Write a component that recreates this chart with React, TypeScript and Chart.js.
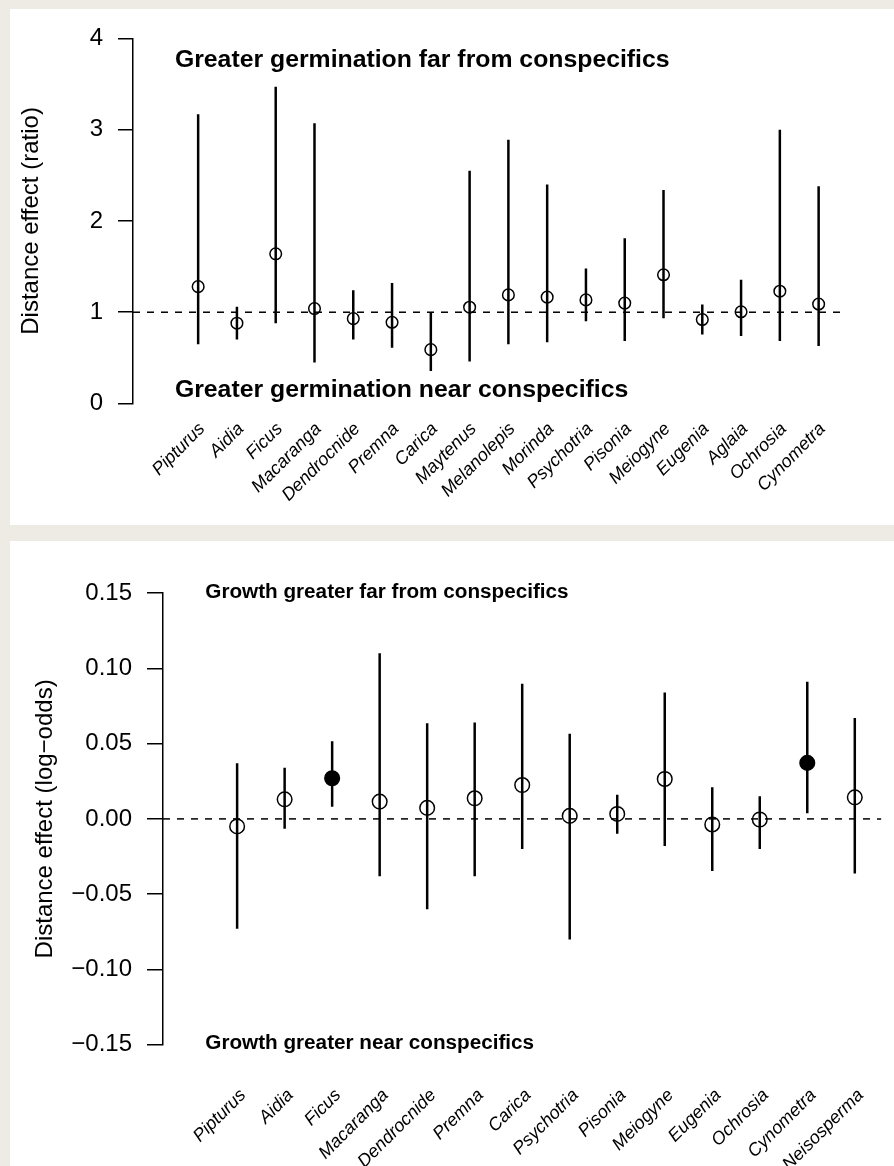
import { useEffect, useRef } from "react";
import { Chart, registerables } from "chart.js";

Chart.register(...registerables);

const FONT = "'Liberation Sans', Arial, Helvetica, sans-serif";

// Seed germination: distance effect expressed as a ratio
const germSpecies = [
  "Pipturus", "Aidia", "Ficus", "Macaranga", "Dendrocnide", "Premna", "Carica",
  "Maytenus", "Melanolepis", "Morinda", "Psychotria", "Pisonia", "Meiogyne",
  "Eugenia", "Aglaia", "Ochrosia", "Cynometra",
];
const germEstimate = [1.28, 0.88, 1.64, 1.04, 0.93, 0.89, 0.59, 1.055, 1.19, 1.165, 1.135, 1.1, 1.41, 0.92, 1.005, 1.23, 1.09];
const germLower = [0.65, 0.7, 0.88, 0.45, 0.7, 0.61, 0.355, 0.46, 0.65, 0.67, 0.9, 0.685, 0.935, 0.755, 0.74, 0.685, 0.63];
const germUpper = [3.17, 1.06, 3.47, 3.07, 1.24, 1.32, 1.0, 2.55, 2.89, 2.4, 1.48, 1.81, 2.34, 1.085, 1.355, 3.0, 2.38];
const germSignificant = germSpecies.map(() => false);
const germTicks = [0, 1, 2, 3, 4];
const germTickLabels = ["0", "1", "2", "3", "4"];

// Seedling growth: distance effect on the log-odds scale
const growthSpecies = [
  "Pipturus", "Aidia", "Ficus", "Macaranga", "Dendrocnide", "Premna", "Carica",
  "Psychotria", "Pisonia", "Meiogyne", "Eugenia", "Ochrosia", "Cynometra", "Neisosperma",
];
const growthEstimate = [-0.005, 0.013, 0.027, 0.0115, 0.0073, 0.0137, 0.0225, 0.002, 0.0033, 0.0265, -0.0037, -0.0004, 0.0372, 0.0143];
const growthLower = [-0.073, -0.0066, 0.008, -0.038, -0.06, -0.038, -0.02, -0.08, -0.0099, -0.018, -0.0346, -0.02, 0.0037, -0.0363];
const growthUpper = [0.037, 0.034, 0.0515, 0.11, 0.0635, 0.064, 0.0898, 0.0566, 0.016, 0.084, 0.021, 0.015, 0.091, 0.067];
const growthSignificant = [false, false, true, false, false, false, false, false, false, false, false, false, true, false];
const growthTicks = [-0.15, -0.1, -0.05, 0, 0.05, 0.1, 0.15];
const growthTickLabels = ["\u22120.15", "\u22120.10", "\u22120.05", "0.00", "0.05", "0.10", "0.15"];

type Note = { text: string; x: number; y: number };

type PanelSpec = {
  width: number;
  height: number;
  species: string[];
  estimate: number[];
  lower: number[];
  upper: number[];
  significant: boolean[];
  ticks: number[];
  tickLabels: string[];
  reference: number;
  xMin: number;
  xMax: number;
  yTitle: string;
  yTitlePad: number;
  axisWidth: number;
  axisHeight: number;
  padTop: number;
  padRight: number;
  tickLength: number;
  tickFont: number;
  tickPad: number;
  labelFont: number;
  labelPad: number;
  labelShift: number;
  pointRadius: number;
  notes: Note[];
  noteFont: number;
};

const germPanel: PanelSpec = {
  width: 884,
  height: 516,
  species: germSpecies,
  estimate: germEstimate,
  lower: germLower,
  upper: germUpper,
  significant: germSignificant,
  ticks: germTicks,
  tickLabels: germTickLabels,
  reference: 1,
  xMin: -0.68,
  xMax: 17.68,
  yTitle: "Distance effect (ratio)",
  yTitlePad: 6.5,
  axisWidth: 123,
  axisHeight: 121.5,
  padTop: 24.5,
  padRight: 49,
  tickLength: 15,
  tickFont: 24,
  tickPad: 15,
  labelFont: 18,
  labelPad: 7,
  labelShift: 4,
  pointRadius: 5.8,
  notes: [
    { text: "Greater germination far from conspecifics", x: 0.4, y: 3.765 },
    { text: "Greater germination near conspecifics", x: 0.4, y: 0.15 },
  ],
  noteFont: 24.8,
};

const growthPanel: PanelSpec = {
  width: 884,
  height: 625,
  species: growthSpecies,
  estimate: growthEstimate,
  lower: growthLower,
  upper: growthUpper,
  significant: growthSignificant,
  ticks: growthTicks,
  tickLabels: growthTickLabels,
  reference: 0,
  xMin: -0.56,
  xMax: 14.56,
  yTitle: "Distance effect (log\u2212odds)",
  yTitlePad: 21,
  axisWidth: 153,
  axisHeight: 121.2,
  padTop: 52,
  padRight: 12.6,
  tickLength: 16,
  tickFont: 24,
  tickPad: 15,
  labelFont: 18,
  labelPad: 32,
  labelShift: 6,
  pointRadius: 7.3,
  notes: [
    { text: "Growth greater far from conspecifics", x: 0.33, y: 0.1505 },
    { text: "Growth greater near conspecifics", x: 0.33, y: -0.1493 },
  ],
  noteFont: 20.7,
};

function buildChart(canvas: HTMLCanvasElement, p: PanelSpec) {
  const positions = p.species.map((_, i) => i + 1);

  // vertical interval segments, separated by gaps
  const bars: { x: number; y: number | null }[] = [];
  positions.forEach((x, i) => {
    bars.push({ x, y: p.lower[i] });
    bars.push({ x, y: p.upper[i] });
    bars.push({ x, y: null });
  });

  const points = positions.map((x, i) => ({ x, y: p.estimate[i] }));

  const notesPlugin = {
    id: "panelNotes",
    afterDraw(chart: Chart) {
      const { ctx } = chart;
      const xs = chart.scales.x;
      const ys = chart.scales.y;
      ctx.save();
      ctx.fillStyle = "#000";
      ctx.font = `bold ${p.noteFont}px ${FONT}`;
      ctx.textAlign = "left";
      ctx.textBaseline = "middle";
      p.notes.forEach((n) => {
        ctx.fillText(n.text, xs.getPixelForValue(n.x), ys.getPixelForValue(n.y));
      });
      ctx.restore();
    },
  };

  return new Chart(canvas, {
    type: "line",
    data: {
      datasets: [
        {
          data: [
            { x: p.xMin, y: p.reference },
            { x: p.xMax, y: p.reference },
          ],
          borderColor: "#000",
          borderWidth: 1.5,
          borderDash: [7, 7],
          pointRadius: 0,
          fill: false,
        },
        {
          data: bars,
          borderColor: "#000",
          borderWidth: 2.5,
          borderCapStyle: "butt",
          pointRadius: 0,
          spanGaps: false,
          fill: false,
        },
        {
          data: points,
          showLine: false,
          pointRadius: p.pointRadius,
          pointBorderWidth: 1.5,
          pointBorderColor: "#000",
          pointBackgroundColor: p.significant.map((s) => (s ? "#000" : "rgba(0,0,0,0)")),
        },
      ],
    },
    options: {
      responsive: false,
      animation: false,
      devicePixelRatio: 1,
      events: [],
      layout: { padding: { top: p.padTop, right: p.padRight, left: 0, bottom: 0 } },
      plugins: { legend: { display: false }, tooltip: { enabled: false } },
      scales: {
        x: {
          type: "linear",
          min: p.xMin,
          max: p.xMax,
          afterBuildTicks: (scale: any) => {
            scale.ticks = positions.map((v) => ({ value: v }));
          },
          afterFit: (scale: any) => {
            scale.height = p.axisHeight;
            // keep the plot width fixed regardless of label overhang
            scale.paddingLeft = 0;
            scale.paddingRight = 0;
          },
          grid: { display: false },
          border: { display: false },
          ticks: {
            autoSkip: false,
            maxRotation: 45,
            minRotation: 45,
            padding: p.labelPad,
            labelOffset: p.labelShift,
            color: "#000",
            font: { family: FONT, size: p.labelFont, style: "italic" },
            callback: (v: any) => p.species[Math.round(Number(v)) - 1] ?? "",
          },
        },
        y: {
          type: "linear",
          min: p.ticks[0],
          max: p.ticks[p.ticks.length - 1],
          afterBuildTicks: (scale: any) => {
            scale.ticks = p.ticks.map((v) => ({ value: v }));
          },
          afterFit: (scale: any) => {
            scale.width = p.axisWidth;
          },
          grid: {
            display: true,
            drawOnChartArea: false,
            drawTicks: true,
            tickLength: p.tickLength,
            color: "#000",
            lineWidth: 1.5,
          },
          border: { display: true, color: "#000", width: 1.5 },
          ticks: {
            padding: p.tickPad,
            color: "#000",
            font: { family: FONT, size: p.tickFont },
            callback: (v: any) => {
              const k = p.ticks.findIndex((t) => Math.abs(t - Number(v)) < 1e-9);
              return k >= 0 ? p.tickLabels[k] : "";
            },
          },
          title: {
            display: true,
            text: p.yTitle,
            color: "#000",
            font: { family: FONT, size: 24 },
            padding: { top: p.yTitlePad, bottom: 0 },
          },
        },
      },
    },
    plugins: [notesPlugin],
  } as any);
}

function Panel({ spec, left, top }: { spec: PanelSpec; left: number; top: number }) {
  const ref = useRef<HTMLCanvasElement | null>(null);
  useEffect(() => {
    if (!ref.current) return;
    const chart = buildChart(ref.current, spec);
    return () => chart.destroy();
  }, [spec]);
  return (
    <div
      style={{
        position: "absolute",
        left,
        top,
        width: spec.width,
        height: spec.height,
        background: "#fff",
      }}
    >
      <canvas
        ref={ref}
        width={spec.width}
        height={spec.height}
        style={{ display: "block", width: spec.width, height: spec.height }}
      />
    </div>
  );
}

export default function App() {
  return (
    <div
      style={{
        position: "absolute",
        left: 0,
        top: 0,
        width: 894,
        height: 1166,
        background: "#eeebe4",
        overflow: "hidden",
      }}
    >
      <Panel spec={germPanel} left={10} top={9} />
      <Panel spec={growthPanel} left={10} top={541} />
    </div>
  );
}
